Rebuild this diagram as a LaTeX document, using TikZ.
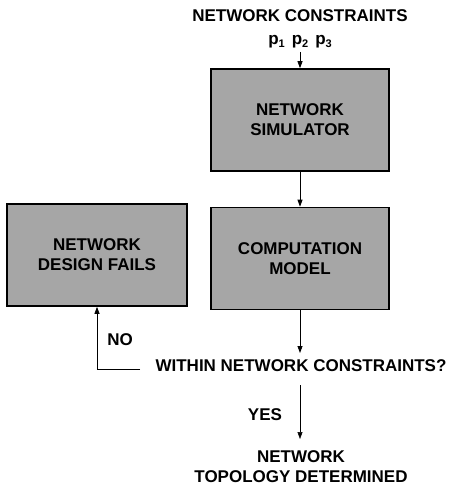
\documentclass[tikz,border=0pt]{standalone}
\usepackage{fontspec}
\setmainfont{Liberation Sans}
\usetikzlibrary{arrows.meta}
% parameter with a lowered sans subscript
\newcommand{\parsub}[1]{p\raisebox{-3pt}{\fontsize{11}{11}\selectfont #1}}
\begin{document}
\begin{tikzpicture}[x=1pt,y=-1pt,
  font=\fontsize{17}{20}\selectfont\bfseries,
  procbox/.style={draw=black,line width=1.6pt,fill=black!35,minimum width=178pt,minimum height=102pt,align=center,inner sep=0pt},
  lbl/.style={align=center,inner sep=1pt},
  flow/.style={line width=0.8pt,-{Triangle[length=7pt,width=5pt]}}]
\useasboundingbox (0,0) rectangle (448,489);
% input constraints
\node[lbl] (cons) at (300,16) {NETWORK CONSTRAINTS};
\node[lbl] (params) at (300,42) {\parsub{1}\hspace{7pt}\parsub{2}\hspace{7pt}\parsub{3}};
% process boxes
\node[procbox] (sim) at (300,120) {NETWORK\\SIMULATOR};
\node[procbox] (comp) at (300,258.5) {COMPUTATION\\MODEL};
\node[procbox,minimum width=180pt] (fail) at (97,255) {NETWORK\\DESIGN FAILS};
% decision and outcome
\node[lbl] (check) at (301,366) {WITHIN NETWORK CONSTRAINTS?};
\node[lbl] (done) at (301,467) {NETWORK\\TOPOLOGY DETERMINED};
% connector end points around the decision text
\coordinate (intop) at (300,52);
\coordinate (checkin) at (300,353);
\coordinate (yesfrom) at (300,385);
\coordinate (yesto) at (300,439);
\coordinate (noend) at (140,369);
\coordinate (corner) at (fail.south |- noend);
% connectors
\draw[flow] (intop) -- (sim.north);
\draw[flow] (sim.south) -- (comp.north);
\draw[flow] (comp.south) -- (checkin);
\draw[flow,line width=0.5pt] (yesfrom) -- (yesto);
\draw[flow] (noend) -- (corner) -- (fail.south);
% branch labels
\node[lbl] at (120,340) {NO};
\node[lbl] at (265,415) {YES};
\end{tikzpicture}
\end{document}
